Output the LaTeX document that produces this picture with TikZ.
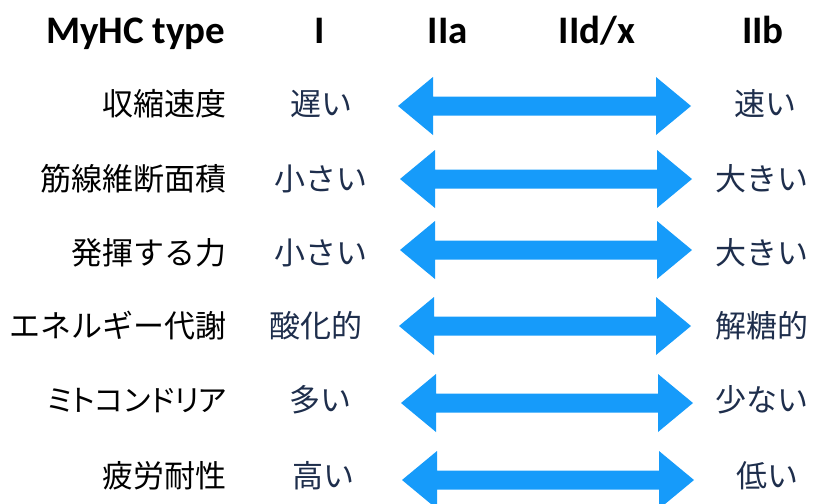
\documentclass[tikz,border=0pt]{standalone}
\usepackage{fontspec}
\setmainfont{Carlito}
\newfontfamily\jp{Noto Sans CJK JP}
\newfontfamily\jpprop[RawFeature=+palt]{Noto Sans CJK JP}
\usetikzlibrary{calc}
\definecolor{arrowblue}{RGB}{22,155,250}
\definecolor{valnavy}{RGB}{30,46,76}
\begin{document}
\begin{tikzpicture}[x=1pt,y=-1pt,
  hdr/.style={anchor=base,inner sep=0pt,font=\fontsize{39}{42}\selectfont\bfseries,text=black},
  lbl/.style={anchor=base east,inner sep=0pt,font=\jp\fontsize{31}{34}\selectfont,text=black},
  val/.style={anchor=base,inner sep=0pt,font=\jp\fontsize{31}{34}\selectfont,text=valnavy},
  bigarrow/.style={fill=arrowblue}]
\useasboundingbox (0,0) rectangle (815,504);
% header
\node[hdr,anchor=base west] (h0) at (46,43) {MyHC type};
\node[hdr] (h1) at (320,43) {I};
\node[hdr] (h2) at (448,43) {IIa};
\node[hdr] (h3) at (597,43) {IId/x};
\node[hdr] (h4) at (763,43) {IIb};
% rows
\foreach \i/\ty/\ay/\xl/\xr/\lab/\lv/\lx/\rv/\rx in {
  1/103/106/398/691/収縮速度/遅い/321/速い/765,
  2/178/179/400/692/筋線維断面積/小さい/321/大きい/762,
  3/252/250/400/692/発揮する力/小さい/321/大きい/762,
  4/325/326/399/691/エネルギー代謝/酸化的/316/解糖的/762,
  5/399/403/401/693/{\jpprop\fontsize{30}{33}\selectfont ミトコンドリア}/多い/320/少ない/762,
  6/475/480/402/694/疲労耐性/高い/323/低い/767}{
  \node[lbl] (lab\i) at (227,\ty+12) {\lab};
  \node[val] (lv\i) at (\lx,\ty+12) {\lv};
  \node[val] (rv\i) at (\rx,\ty+12) {\rv};
  \coordinate (tl\i) at (\xl,\ay);
  \coordinate (tr\i) at (\xr,\ay);
  \fill[bigarrow] (tl\i) -- ($(tl\i)+(35,-29)$) -- ($(tl\i)+(35,-9.5)$)
     -- ($(tr\i)+(-35,-9.5)$) -- ($(tr\i)+(-35,-29)$) -- (tr\i)
     -- ($(tr\i)+(-35,29)$) -- ($(tr\i)+(-35,9.5)$)
     -- ($(tl\i)+(35,9.5)$) -- ($(tl\i)+(35,29)$) -- cycle;
}
\end{tikzpicture}
\end{document}
